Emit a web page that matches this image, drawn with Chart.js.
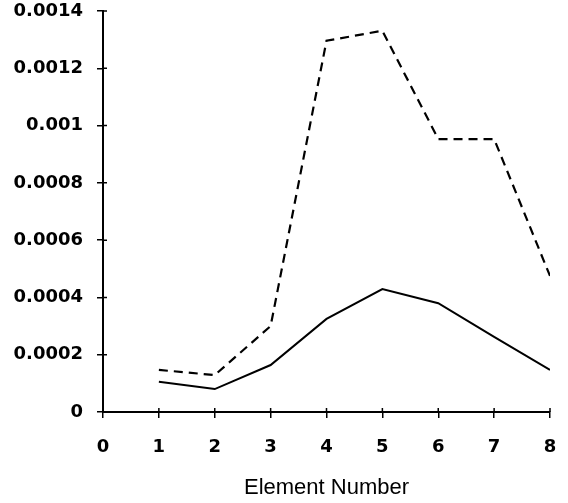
<!DOCTYPE html>
<html>
<head>
<meta charset="utf-8">
<script src="https://cdn.jsdelivr.net/npm/chart.js@4/dist/chart.umd.min.js"></script>
<style>
  html, body { margin: 0; padding: 0; background: #fff; }
  #wrap { width: 568px; height: 503px; }
</style>
</head>
<body>
<div id="wrap"><canvas id="chart"></canvas></div>
<script>
// values
const elementNumbers = [1, 2, 3, 4, 5, 6, 7, 8];
const dashedSeries = [0.000147, 0.000129, 0.000300, 0.001296, 0.001331, 0.000953, 0.000953, 0.000475];
const solidSeries = [0.000106, 0.000080, 0.000164, 0.000325, 0.000429, 0.000380, 0.000262, 0.000147];
const xTicks = [0, 1, 2, 3, 4, 5, 6, 7, 8];
const yTicks = [0, 0.0002, 0.0004, 0.0006, 0.0008, 0.001, 0.0012, 0.0014];
const xTitle = "Element Number";

function toPoints(values) {
  return elementNumbers.map(function(x, i) { return { x: x, y: values[i] }; });
}

// small tick marks that also reach a bit inside the axes
const crossTicks = {
  id: 'crossTicks',
  afterDraw: function(chart) {
    const ctx = chart.ctx;
    const xs = chart.scales.x, ys = chart.scales.y;
    ctx.save();
    ctx.strokeStyle = '#000';
    ctx.lineWidth = 1.5;
    ctx.beginPath();
    xTicks.forEach(function(v) {
      const px = xs.getPixelForValue(v);
      ctx.moveTo(px, ys.bottom - 4);
      ctx.lineTo(px, ys.bottom);
    });
    yTicks.forEach(function(v) {
      const py = ys.getPixelForValue(v);
      ctx.moveTo(xs.left, py);
      ctx.lineTo(xs.left + 4, py);
    });
    ctx.stroke();
    ctx.restore();
  }
};

const tickFont = { family: "'DejaVu Sans'", size: 18, weight: 'bold' };

new Chart(document.getElementById('chart'), {
  type: 'line',
  data: {
    datasets: [{
      data: toPoints(dashedSeries),
      borderColor: '#000',
      borderWidth: 2.2,
      borderDash: [9, 6],
      pointRadius: 0,
      fill: false,
      tension: 0
    }, {
      data: toPoints(solidSeries),
      borderColor: '#000',
      borderWidth: 2,
      pointRadius: 0,
      fill: false,
      tension: 0
    }]
  },
  options: {
    responsive: true,
    maintainAspectRatio: false,
    animation: false,
    layout: { padding: { top: 11, right: 18, bottom: 0, left: 0 } },
    plugins: { legend: { display: false }, tooltip: { enabled: false } },
    scales: {
      x: {
        type: 'linear',
        min: 0,
        max: 8,
        afterBuildTicks: function(scale) { scale.ticks = xTicks.map(function(v) { return { value: v }; }); },
        afterFit: function(scale) {
          scale.height = 91;
          scale.paddingLeft = 0;
          scale.paddingRight = 0;
        },
        ticks: { color: '#000', font: tickFont, padding: 19, maxRotation: 0 },
        grid: { drawOnChartArea: false, tickLength: 6, color: '#000', lineWidth: 1.5 },
        border: { color: '#000', width: 2 },
        title: {
          display: true,
          text: xTitle,
          color: '#000',
          font: { family: "'Liberation Sans'", size: 22 },
          padding: { top: 0, bottom: 2 }
        }
      },
      y: {
        min: 0,
        max: 0.0014,
        afterBuildTicks: function(scale) { scale.ticks = yTicks.map(function(v) { return { value: v }; }); },
        afterFit: function(scale) {
          scale.width = 103;
          scale.paddingTop = 0;
          scale.paddingBottom = 0;
        },
        ticks: {
          color: '#000',
          font: tickFont,
          padding: 14,
          callback: function(v) { return String(Number(v.toFixed(4))); }
        },
        grid: { drawOnChartArea: false, tickLength: 6, color: '#000', lineWidth: 1.5 },
        border: { color: '#000', width: 2 }
      }
    }
  },
  plugins: [crossTicks]
});
</script>
</body>
</html>
